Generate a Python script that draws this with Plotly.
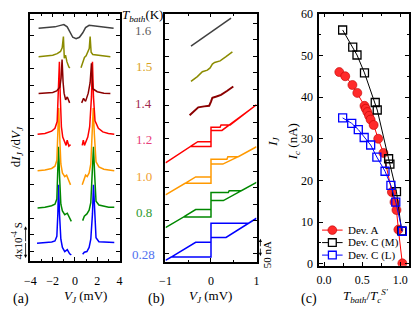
import plotly.graph_objects as go

W, H = 419, 313
FONT = "Liberation Serif"

# ---------------- Panel (a): dI/dV (units 1e-4 S, offset) ----------------
temps = ["0.28", "0.8", "1.0", "1.2", "1.4", "1.5", "1.6"]

a_V_028 = [-3.41, -2.68, -2.09, -1.80, -1.63, -1.54, -1.48, -1.39, -1.27, -1.13, -0.92, -0.69, -0.48, -0.33, None,
           0.69, 0.84, 1.07, 1.27, 1.42, 1.57, 1.66, 1.77, 1.89, 2.15, 2.59, 3.03, 3.53]
a_G_028 = [2.36, 2.45, 2.54, 2.67, 3.3, 6.3, 10.2, 6.3, 2.9, 1.8, 1.25, 1.5, 0.95, 0.8, None,
           0.9, 1.16, 1.25, 1.8, 2.9, 6.3, 10.2, 6.3, 3.1, 2.58, 2.54, 2.45, 2.45]

a_V_08 = [-3.36, -2.7, -2.1, -1.8, -1.63, -1.54, -1.48, -1.39, -1.27, -1.13, -0.92, -0.69, -0.48, -0.33, None,
          0.69, 0.84, 1.07, 1.27, 1.42, 1.57, 1.66, 1.77, 1.89, 2.15, 2.59, 3.03, 3.53]
a_G_08 = [7.1, 7.2, 7.4, 7.6, 8.3, 11.5, 15.3, 11.5, 7.6, 6.7, 6.2, 6.4, 5.6, 5.3, None,
          5.4, 6.0, 6.3, 6.8, 7.8, 11.5, 15.3, 11.5, 8.0, 7.5, 7.3, 7.2, 7.2]

a_V_10 = [-3.36, -2.7, -2.1, -1.8, -1.63, -1.54, -1.46, -1.38, -1.27, -1.13, -0.92, -0.75, -0.6, -0.4, None,
          0.65, 0.8, 0.95, 1.1, 1.27, 1.42, 1.55, 1.64, 1.74, 1.89, 2.15, 2.59, 3.03, 3.53]
a_G_10 = [12.1, 12.2, 12.4, 12.7, 13.5, 17.0, 20.5, 17.0, 13.0, 11.8, 11.3, 11.5, 11.0, 10.2, None,
          10.2, 11.0, 11.5, 11.3, 11.8, 13.0, 17.0, 20.5, 17.0, 13.3, 12.6, 12.3, 12.2, 12.1]

a_V_12 = [-3.36, -2.7, -2.1, -1.8, -1.6, -1.5, -1.4, -1.32, -1.22, -1.1, -0.92, -0.8, -0.7, -0.55, -0.4, None,
          0.65, 0.75, 0.85, 1.0, 1.15, 1.32, 1.48, 1.57, 1.66, 1.8, 2.1, 2.5, 3.0, 3.53]
a_G_12 = [17.0, 17.1, 17.4, 17.8, 18.7, 22.0, 26.7, 22.0, 18.0, 16.6, 16.0, 15.5, 16.2, 15.4, 15.6, None,
          15.5, 16.2, 15.5, 16.1, 16.6, 18.0, 22.0, 26.7, 22.0, 18.8, 17.8, 17.3, 17.1, 17.0]

a_V_14 = [-3.27, -2.6, -2.0, -1.65, -1.36, -1.25, -1.16, -1.07, -0.98, -0.84, -0.69, -0.48, None,
          0.6, 0.77, 0.95, 1.19, 1.36, 1.48, 1.6, 2.0, 2.6, 3.18]
a_G_14 = [22.45, 22.5, 22.6, 22.8, 23.3, 24.5, 27.0, 24.0, 22.5, 21.6, 22.0, 21.2, None,
          21.2, 21.8, 21.4, 22.5, 23.9, 26.5, 23.1, 22.7, 22.5, 22.45]

a_V_15 = [-3.27, -2.6, -2.0, -1.6, -1.3, -1.15, -1.04, -0.96, -0.85, -0.72, -0.55, -0.45, None,
          0.54, 0.7, 0.85, 1.0, 1.15, 1.28, 1.36, 1.45, 1.6, 2.0, 2.6, 3.18]
a_G_15 = [27.4, 27.5, 27.6, 27.8, 28.1, 28.6, 30.1, 27.2, 27.6, 26.7, 26.0, 25.9, None,
          25.9, 26.5, 27.3, 27.5, 28.0, 28.5, 30.1, 28.0, 27.7, 27.6, 27.5, 27.4]

a_V_16 = [-3.27, -2.5, -1.8, -1.3, -1.0, -0.7, -0.45, -0.2, 0.1, 0.4, 0.7, 0.95, 1.27, 1.7, 2.3, 2.9, 3.47]
a_G_16 = [31.2, 31.3, 31.4, 31.6, 31.7, 31.4, 30.6, 30.0, 29.8, 30.0, 30.6, 31.3, 31.6, 31.5, 31.4, 31.3, 31.2]

# ---------------- Panel (b): I-V (nA, offset) ----------------
b_V_028 = [-1.0, -0.875, 0.0, 0.0, 0.82, 1.0, 0.82, 0.33, 0.0, 0.0, -0.337, -0.875]
b_I_028 = [4.5, 15, 15, 120, 120, 136, 120, 76, 76, 61, 61, 15]

b_V_08 = [-1.0, -0.6, 0.0, 0.0, 0.38, 0.40, 0.667, 1.0, 0.667, 0.272, 0.0, 0.0, -0.337, -0.6]
b_I_08 = [107, 140, 140, 216, 216, 222, 222, 248, 222, 191, 191, 163, 163, 140]

b_V_10 = [-1.0, -0.57, 0.0, 0.0, 0.35, 0.37, 0.6, 1.0, 0.6, 0.26, 0.0, 0.0, -0.337, -0.57]
b_I_10 = [209, 245, 245, 320, 320, 328, 328, 359, 328, 305, 305, 265, 265, 245]

b_V_12 = [-1.0, -0.45, 0.0, 0.0, 0.2, 0.22, 0.42, 1.0, 0.42, 0.24, 0.0, 0.0, -0.29, -0.45]
b_I_12 = [309, 360, 360, 420, 420, 427, 427, 490, 429, 410, 410, 375, 375, 360]

b_V_14 = [-0.47, -0.38, -0.28, -0.15, -0.04, 0.0, 0.03, 0.12, 0.22, 0.35, 0.49]
b_I_14 = [457, 470, 482, 485, 487, 500, 512, 516, 521, 533, 547]

b_V_15 = [-0.44, -0.3, -0.19, -0.08, -0.02, 0.03, 0.08, 0.2, 0.33, 0.47]
b_I_15 = [563, 578, 593, 598, 605, 617, 622, 627, 640, 655]

b_V_16 = [-0.44, 0.0, 0.44]
b_I_16 = [673, 716, 760]

# ---------------- Panel (c): Ic vs T/Tc ----------------
c_T_A = [0.20, 0.278, 0.372, 0.436, 0.53, 0.547, 0.568, 0.59, 0.61, 0.65, 0.71, 0.778, 0.889, 0.923, 0.949, 0.974, 1.026]
c_I_A = [46.0, 45.0, 42.9, 41.0, 37.9, 37.2, 36.4, 35.5, 34.6, 33.3, 30.0, 26.6, 17.2, 14.8, 12.9, 8.2, 0.1]
c_T_M = [0.244, 0.376, 0.432, 0.53, 0.671, 0.697, 0.846, 0.863, 0.949, 1.017]
c_I_M = [56.1, 52.0, 50.1, 45.8, 38.7, 36.9, 25.2, 23.9, 17.3, 7.9]
c_T_L = [0.244, 0.363, 0.449, 0.526, 0.611, 0.692, 0.799, 0.876, 0.94, 1.026]
c_I_L = [35.0, 33.7, 32.2, 30.3, 28.5, 25.6, 22.2, 18.8, 14.8, 7.8]
c_names = ["Dev. A", "Dev. C (M)", "Dev. C (L)"]

curve_colors = ["#0000FF", "#008800", "#FF9900", "#FF0000", "#8B0000", "#8B8B00", "#404040"]
label_colors = ["#5070F0", "#2E9A2E", "#F0A030", "#E8407A", "#A0284E", "#D9A21B", "#606060"]
label_ypx = [257, 214, 176, 138, 100, 62, 24]

a_sets = [(a_V_028, a_G_028), (a_V_08, a_G_08), (a_V_10, a_G_10), (a_V_12, a_G_12),
          (a_V_14, a_G_14), (a_V_15, a_G_15), (a_V_16, a_G_16)]
b_sets = [(b_V_028, b_I_028), (b_V_08, b_I_08), (b_V_10, b_I_10), (b_V_12, b_I_12),
          (b_V_14, b_I_14), (b_V_15, b_I_15), (b_V_16, b_I_16)]

fig = go.Figure()
for (v, g), col in zip(a_sets, curve_colors):
    fig.add_trace(go.Scatter(x=v, y=g, mode="lines", line=dict(color=col, width=1.5),
                             xaxis="x", yaxis="y", showlegend=False, connectgaps=False))
for i, ((v, c), col) in enumerate(zip(b_sets, curve_colors)):
    fig.add_trace(go.Scatter(x=v, y=c, mode="lines", line=dict(color=col, width=2 if i == 4 else 1.5),
                             xaxis="x2", yaxis="y2", showlegend=False))

RED_FILL, RED_EDGE = "#FF2A2A", "#C00000"
fig.add_trace(go.Scatter(x=c_T_A, y=c_I_A, mode="lines+markers", name=c_names[0],
                         line=dict(color="#FF0000", width=1),
                         marker=dict(symbol="circle", size=9, color=RED_FILL, line=dict(color=RED_EDGE, width=0.6)),
                         xaxis="x3", yaxis="y3", showlegend=False))
fig.add_trace(go.Scatter(x=c_T_M, y=c_I_M, mode="lines+markers", name=c_names[1],
                         line=dict(color="#000000", width=1),
                         marker=dict(symbol="square-open", size=8, color="#000000", line=dict(width=1.3)),
                         xaxis="x3", yaxis="y3", showlegend=False))
fig.add_trace(go.Scatter(x=c_T_L, y=c_I_L, mode="lines+markers", name=c_names[2],
                         line=dict(color="#0000FF", width=1),
                         marker=dict(symbol="square-open", size=8, color="#0000FF", line=dict(width=1.3)),
                         xaxis="x3", yaxis="y3", showlegend=False))


def dom_x(a, b):
    return [a / W, b / W]


def dom_y(top, bot):
    return [1 - bot / H, 1 - top / H]


base = dict(showline=True, linecolor="black", linewidth=1.5, mirror="ticks", ticks="inside",
            ticklen=4, tickwidth=1, tickcolor="black", showgrid=False, zeroline=False,
            tickfont=dict(family=FONT, size=12, color="black"))

fig.update_layout(
    width=W, height=H, margin=dict(l=0, r=0, t=0, b=0), autosize=False,
    paper_bgcolor="white", plot_bgcolor="white",
    font=dict(family=FONT, color="black"), showlegend=False,
    xaxis=dict(base, domain=dom_x(25, 116), range=[-4, 4], anchor="y", tickvals=[-4, -2, 0, 2, 4],
               minor=dict(ticks="inside", ticklen=2.5, dtick=1, tickcolor="black"), ticklabelstandoff=8),
    yaxis=dict(base, domain=dom_y(7, 264), range=[0, 33.16], anchor="x", showticklabels=False,
               tick0=1.29, dtick=2.225),
    xaxis2=dict(base, domain=dom_x(163, 256), range=[-1, 1], anchor="y2", tickvals=[-1, 0, 1],
                minor=dict(ticks="inside", ticklen=2.5, dtick=0.5, tickcolor="black"), ticklabelstandoff=7),
    yaxis2=dict(base, domain=dom_y(7, 265), range=[0, 774], anchor="x2", showticklabels=False,
                tick0=25, dtick=51.4),
    xaxis3=dict(base, domain=dom_x(320, 412), range=[-0.064, 1.115], anchor="y3",
                tickvals=[0, 0.5, 1.0], ticktext=["0.0", "0.5", "1.0"],
                minor=dict(ticks="inside", ticklen=2.5, dtick=0.25, tickcolor="black"), ticklabelstandoff=2),
    yaxis3=dict(base, domain=dom_y(7, 269), range=[-0.46, 60], anchor="x3", tickvals=[0, 10, 20, 30, 40, 50, 60],
                minor=dict(ticks="inside", ticklen=2.5, dtick=5, tickcolor="black"), ticklabelstandoff=2),
)


def ann(text, x, y, size=12, color="black", angle=0, xanchor="center"):
    fig.add_annotation(text=text, x=x / W, y=1 - y / H, xref="paper", yref="paper", showarrow=False,
                       font=dict(family=FONT, size=size, color=color), textangle=angle,
                       xanchor=xanchor, yanchor="middle")


for t, col, yp in zip(temps, label_colors, label_ypx):
    ann(t, 141, yp, size=13, color=col)

ann("<i>T</i><sub><i>bath</i></sub>(K)", 139, 9, size=13)
ann("(a)", 15, 304, size=14)
ann("(b)", 154, 304, size=14)
ann("(c)", 310, 304, size=14)
ann("<i>V</i><sub><i>J</i></sub> (mV)", 81, 301, size=13)
ann("<i>V</i><sub><i>J</i></sub> (mV)", 209, 301, size=13)
ann("<i>T</i><sub><i>bath</i></sub>/<i>T</i><sub><i>c</i></sub><sup><i>S'</i></sup>", 368, 301, size=13)
ann("d<i>I</i><sub><i>J</i></sub> /d<i>V</i><sub><i>J</i></sub>", 11, 145, size=13, angle=-90)
ann("4x10<sup>-4</sup> S", 11, 243, size=11, angle=-90)
ann("<i>I</i><sub><i>J</i></sub>", 273, 140, size=13, angle=-90)
ann("<i>I</i><sub><i>c</i></sub> (nA)", 294, 140, size=13, angle=-90)
ann("50 nA", 267, 258, size=11, angle=-90)

# scale bars (double-headed arrows)
for (xx, y1, y2) in [(20, 228, 261), (260, 241, 259)]:
    ym = (y1 + y2) / 2
    for yt in (y1, y2):
        fig.add_annotation(x=xx / W, y=1 - yt / H, xref="paper", yref="paper",
                           ax=0, ay=ym - yt, axref="pixel", ayref="pixel",
                           showarrow=True, arrowhead=2, arrowsize=0.8, arrowwidth=0.8,
                           arrowcolor="black", text="")

# compact legend (keys drawn as shapes, labels as text)
leg_rows = [232, 245, 258]
leg_cols = ["#FF0000", "#000000", "#0000FF"]
for k, (yr, col, name) in enumerate(zip(leg_rows, leg_cols, c_names)):
    yy = 1 - yr / H
    fig.add_shape(type="line", xref="paper", yref="paper", x0=323 / W, x1=344 / W, y0=yy, y1=yy,
                  line=dict(color=col, width=1))
    if k == 0:
        fig.add_shape(type="circle", xref="paper", yref="paper", x0=329 / W, x1=338 / W,
                      y0=1 - (yr + 4.5) / H, y1=1 - (yr - 4.5) / H,
                      fillcolor=RED_FILL, line=dict(color=RED_EDGE, width=0.6))
    else:
        fig.add_shape(type="rect", xref="paper", yref="paper", x0=329.5 / W, x1=337.5 / W,
                      y0=1 - (yr + 4) / H, y1=1 - (yr - 4) / H,
                      fillcolor="white", line=dict(color=col, width=1.3))
    ann(name, 347, yr, size=11, xanchor="left")

fig.write_html("out.html", post_script="document.body.style.margin='0px';",
               config={"displayModeBar": False})
